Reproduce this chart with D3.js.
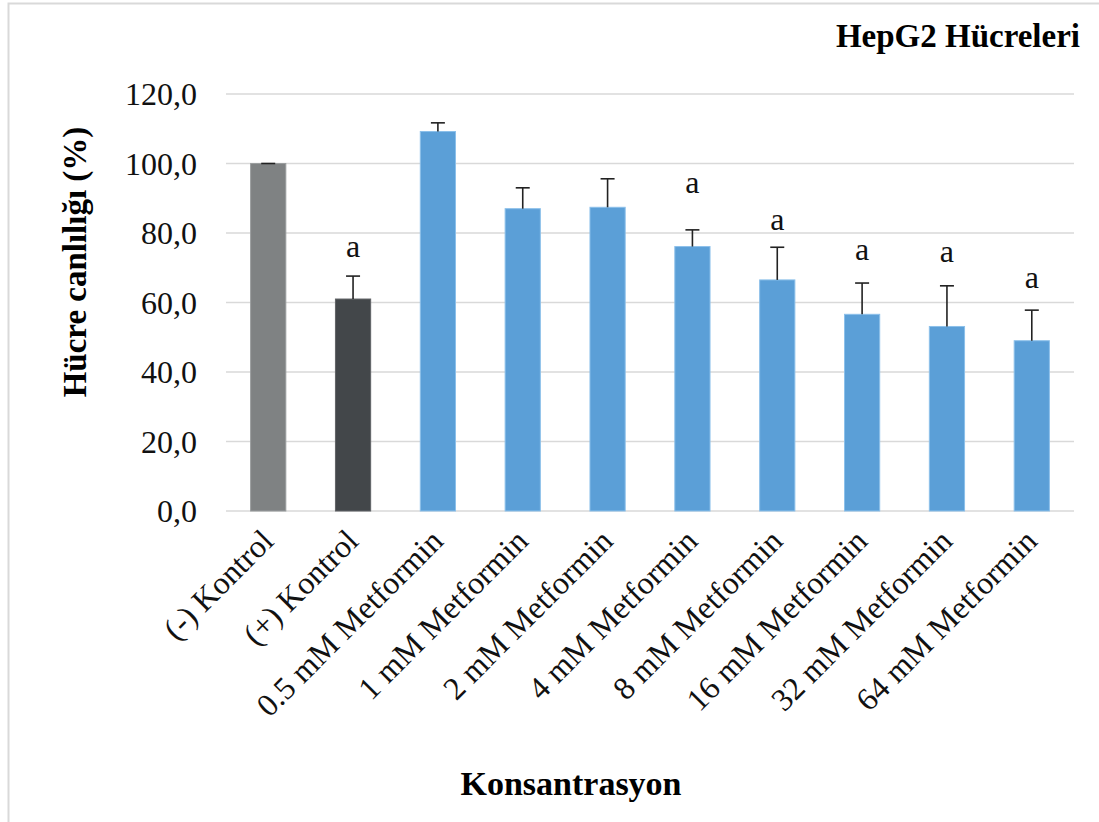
<!DOCTYPE html>
<html>
<head>
<meta charset="utf-8">
<script src="https://cdn.jsdelivr.net/npm/d3@7"></script>
<style>
  html, body { margin: 0; padding: 0; background: #fff; }
  svg { display: block; }
</style>
</head>
<body>
<svg id="chart" width="1099" height="822"></svg>
<script>
// Cell viability of HepG2 cells by treatment
const categories = ["(-) Kontrol", "(+) Kontrol", "0.5 mM Metformin", "1 mM Metformin",
  "2 mM Metformin", "4 mM Metformin", "8 mM Metformin", "16 mM Metformin",
  "32 mM Metformin", "64 mM Metformin"];
const viability = [100.0, 61.0, 109.2, 87.0, 87.4, 76.1, 66.5, 56.6, 53.1, 49.0];
const errors = [0.0, 6.6, 2.5, 6.0, 8.2, 4.8, 9.4, 9.0, 11.7, 8.8];
// significance letters and the height (in %) at which each one sits
const sigLetters = ["", "a", "", "", "", "a", "a", "a", "a", "a"];
const sigHeights = [null, 76.0, null, null, null, 94.4, 83.7, 75.1, 74.5, 67.0];
const yTicks = [0, 20, 40, 60, 80, 100, 120];
const barColors = ["#7f8283", "#43474a", "#5b9fd7", "#5b9fd7", "#5b9fd7", "#5b9fd7",
  "#5b9fd7", "#5b9fd7", "#5b9fd7", "#5b9fd7"];
const barEdges = ["#9a9d9e", "#606366", "#8cc0ea", "#8cc0ea", "#8cc0ea", "#8cc0ea",
  "#8cc0ea", "#8cc0ea", "#8cc0ea", "#8cc0ea"];

const svg = d3.select("#chart");
const serif = "'Liberation Serif', 'Times New Roman', serif";

// outer frame (right and bottom edges run past the page)
svg.append("rect")
  .attr("x", 8.5).attr("y", 3.5).attr("width", 1200).attr("height", 900)
  .attr("fill", "none").attr("stroke", "#d9d9d9").attr("stroke-width", 2);

const plot = { left: 226, right: 1074, top: 94, bottom: 511 };

const x = d3.scaleBand().domain(categories)
  .range([plot.left, plot.right]).paddingInner(0.585).paddingOuter(0.29);
const y = d3.scaleLinear().domain([0, 120]).range([plot.bottom, plot.top]);

// gridlines
svg.append("g").selectAll("line").data(yTicks).join("line")
  .attr("x1", plot.left).attr("x2", plot.right)
  .attr("y1", d => y(d)).attr("y2", d => y(d))
  .attr("stroke", "#d9d9d9").attr("stroke-width", 1.5);

// y tick labels
const yAxis = d3.axisLeft(y).tickValues(yTicks).tickSize(0).tickPadding(0)
  .tickFormat(d => d3.format(".1f")(d).replace(".", ","));
const yg = svg.append("g").attr("transform", `translate(${plot.left - 29},0)`).call(yAxis);
yg.select(".domain").remove();
yg.selectAll("text").attr("font-family", serif).attr("font-size", 32).attr("fill", "#111")
  .attr("dy", "0.33em");

// bars
const data = categories.map((c, i) => ({ c, v: viability[i], e: errors[i], i }));
svg.append("g").selectAll("rect").data(data).join("rect")
  .attr("x", d => x(d.c)).attr("width", x.bandwidth())
  .attr("y", d => y(d.v)).attr("height", d => y(0) - y(d.v))
  .attr("fill", d => barColors[d.i])
  .attr("stroke", d => barEdges[d.i]).attr("stroke-width", 1);

// error bars (upper only)
const eb = svg.append("g").attr("stroke", "#222").attr("stroke-width", 1.6);
eb.selectAll("line.v").data(data).join("line").attr("class", "v")
  .attr("x1", d => x(d.c) + x.bandwidth() / 2).attr("x2", d => x(d.c) + x.bandwidth() / 2)
  .attr("y1", d => y(d.v)).attr("y2", d => y(d.v + d.e));
eb.selectAll("line.c").data(data).join("line").attr("class", "c")
  .attr("x1", d => x(d.c) + x.bandwidth() / 2 - 7).attr("x2", d => x(d.c) + x.bandwidth() / 2 + 7)
  .attr("y1", d => y(d.v + d.e)).attr("y2", d => y(d.v + d.e));

// significance letters
svg.append("g").selectAll("text").data(data.filter(d => sigLetters[d.i])).join("text")
  .attr("x", d => x(d.c) + x.bandwidth() / 2)
  .attr("y", d => y(sigHeights[d.i]))
  .attr("dy", "0.3em")
  .attr("text-anchor", "middle")
  .attr("font-family", serif).attr("font-size", 32).attr("fill", "#111")
  .text(d => sigLetters[d.i]);

// category labels, rotated
const xAxis = d3.axisBottom(x).tickSize(0).tickPadding(0);
const xg = svg.append("g").attr("transform", `translate(0,${plot.bottom})`).call(xAxis);
xg.select(".domain").remove();
xg.selectAll("text")
  .attr("font-family", serif).attr("font-size", 32).attr("fill", "#111")
  .attr("text-anchor", "end").attr("dy", null).attr("y", 0)
  .attr("transform", "translate(7,32) rotate(-45)");

// titles
svg.append("text").attr("x", 1080).attr("y", 47).attr("text-anchor", "end")
  .attr("font-family", serif).attr("font-weight", "bold").attr("font-size", 33)
  .attr("fill", "#000").text("HepG2 Hücreleri");

svg.append("text").attr("transform", "translate(86,262) rotate(-90)")
  .attr("text-anchor", "middle")
  .attr("font-family", serif).attr("font-weight", "bold").attr("font-size", 33)
  .attr("fill", "#000").text("Hücre canlılığı (%)");

svg.append("text").attr("x", 571).attr("y", 795).attr("text-anchor", "middle")
  .attr("font-family", serif).attr("font-weight", "bold").attr("font-size", 34)
  .attr("fill", "#000").text("Konsantrasyon");
</script>
</body>
</html>
